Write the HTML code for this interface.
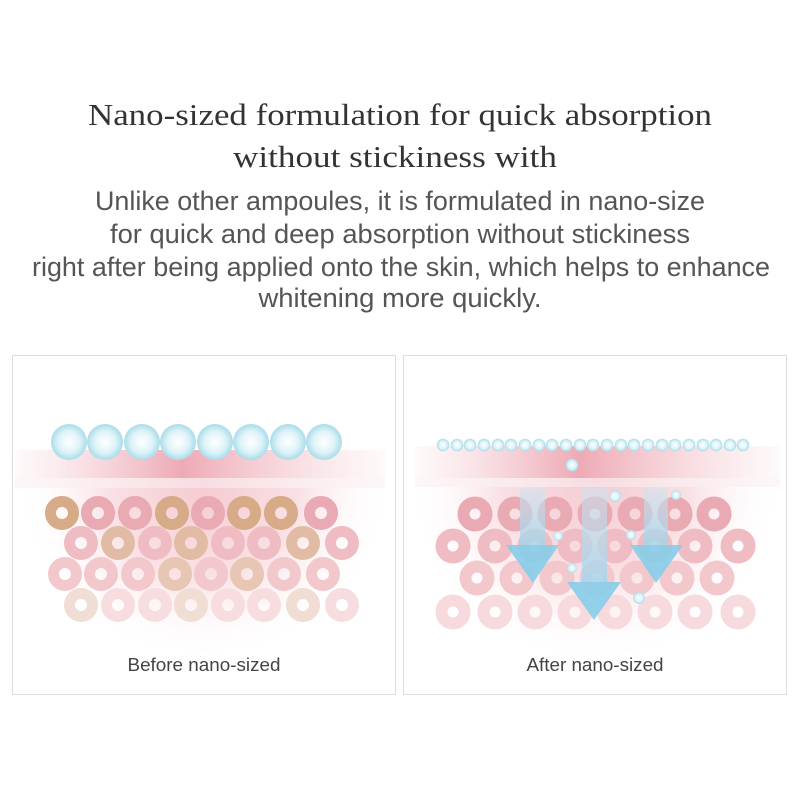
<!DOCTYPE html>
<html><head><meta charset="utf-8"><style>body{margin:0;background:#fff}svg{display:block}</style></head><body>
<svg width="800" height="800" viewBox="0 0 800 800" xmlns="http://www.w3.org/2000/svg">
<defs>
<radialGradient id="bub" cx="0.5" cy="0.5" r="0.5"><stop offset="0" stop-color="#fff"/><stop offset="0.6" stop-color="#def3f8"/><stop offset="1" stop-color="#a9dcea"/></radialGradient>
<linearGradient id="band" x1="0" x2="1"><stop offset="0" stop-color="#f4c9cf" stop-opacity="0.1"/><stop offset="0.45" stop-color="#eeaab5"/><stop offset="1" stop-color="#f4c9cf" stop-opacity="0.1"/></linearGradient>
<radialGradient id="der" cx="0.5" cy="0" r="0.7" gradientTransform="translate(0.5 0) scale(0.7 1.3) translate(-0.5 0)"><stop offset="0" stop-color="#f5ccd2"/><stop offset="0.5" stop-color="#f9e0e4"/><stop offset="1" stop-color="#fff" stop-opacity="0"/></radialGradient>
<linearGradient id="band2" x1="0" x2="1"><stop offset="0" stop-color="#f8e4e7" stop-opacity="0.3"/><stop offset="0.5" stop-color="#f6dde1"/><stop offset="1" stop-color="#f8e4e7" stop-opacity="0.3"/></linearGradient>
<linearGradient id="shaft" x1="0" y1="0" x2="0" y2="1"><stop offset="0" stop-color="#c9e6f2" stop-opacity="0.5"/><stop offset="1" stop-color="#9fd6ec" stop-opacity="0.8"/></linearGradient>
</defs>
<g font-family="'Liberation Serif',serif" font-size="31" fill="#333" text-anchor="middle">
<text x="400" y="125" textLength="624" lengthAdjust="spacingAndGlyphs">Nano-sized formulation for quick absorption</text>
<text x="395" y="167" textLength="324" lengthAdjust="spacingAndGlyphs">without stickiness with</text>
</g>
<g font-family="'Liberation Sans',sans-serif" font-size="27" fill="#555" text-anchor="middle">
<text x="400" y="210" textLength="610" lengthAdjust="spacingAndGlyphs">Unlike other ampoules, it is formulated in nano-size</text>
<text x="400" y="243" textLength="580" lengthAdjust="spacingAndGlyphs">for quick and deep absorption without stickiness</text>
<text x="401" y="276" textLength="738" lengthAdjust="spacingAndGlyphs">right after being applied onto the skin, which helps to enhance</text>
<text x="400" y="307" textLength="283" lengthAdjust="spacingAndGlyphs">whitening more quickly.</text>
</g>
<rect x="12.5" y="355.5" width="383" height="339" fill="#fff" stroke="#ddd"/>
<rect x="403.5" y="355.5" width="383" height="339" fill="#fff" stroke="#ddd"/>
<!-- left panel -->
<rect x="13" y="488" width="382" height="190" fill="url(#der)"/>
<rect x="15" y="450" width="370" height="28" fill="url(#band)"/>
<rect x="15" y="478" width="370" height="10" fill="url(#band2)"/>
<g fill="none" stroke-width="11">
<circle cx="62" cy="513" r="11.5" stroke="#d7ab88"/><circle cx="98" cy="513" r="11.5" stroke="#eaaab4"/><circle cx="135" cy="513" r="11.5" stroke="#eaaab4"/><circle cx="172" cy="513" r="11.5" stroke="#d7ab88"/><circle cx="208" cy="513" r="11.5" stroke="#eaaab4"/><circle cx="244" cy="513" r="11.5" stroke="#d7ab88"/><circle cx="281" cy="513" r="11.5" stroke="#d7ab88"/><circle cx="321" cy="513" r="11.5" stroke="#eaaab4"/>
<circle cx="81" cy="543" r="11.5" stroke="#efbcc3"/><circle cx="118" cy="543" r="11.5" stroke="#e2bba4"/><circle cx="155" cy="543" r="11.5" stroke="#efbcc3"/><circle cx="191" cy="543" r="11.5" stroke="#e2bba4"/><circle cx="228" cy="543" r="11.5" stroke="#efbcc3"/><circle cx="264" cy="543" r="11.5" stroke="#efbcc3"/><circle cx="303" cy="543" r="11.5" stroke="#e2bba4"/><circle cx="342" cy="543" r="11.5" stroke="#efbcc3"/>
<circle cx="65" cy="574" r="11.5" stroke="#f3c8cd"/><circle cx="101" cy="574" r="11.5" stroke="#f3c8cd"/><circle cx="138" cy="574" r="11.5" stroke="#f3c8cd"/><circle cx="175" cy="574" r="11.5" stroke="#e8c6b4"/><circle cx="211" cy="574" r="11.5" stroke="#f3c8cd"/><circle cx="247" cy="574" r="11.5" stroke="#e8c6b4"/><circle cx="284" cy="574" r="11.5" stroke="#f3c8cd"/><circle cx="323" cy="574" r="11.5" stroke="#f3c8cd"/>
<circle cx="81" cy="605" r="11.5" stroke="#f0ddd3"/><circle cx="118" cy="605" r="11.5" stroke="#f7dde0"/><circle cx="155" cy="605" r="11.5" stroke="#f7dde0"/><circle cx="191" cy="605" r="11.5" stroke="#f0ddd3"/><circle cx="228" cy="605" r="11.5" stroke="#f7dde0"/><circle cx="264" cy="605" r="11.5" stroke="#f7dde0"/><circle cx="303" cy="605" r="11.5" stroke="#f0ddd3"/><circle cx="342" cy="605" r="11.5" stroke="#f7dde0"/>
</g>
<g fill="url(#bub)">
<circle cx="69" cy="442" r="18"/><circle cx="105" cy="442" r="18"/><circle cx="142" cy="442" r="18"/><circle cx="178" cy="442" r="18"/><circle cx="215" cy="442" r="18"/><circle cx="251" cy="442" r="18"/><circle cx="288" cy="442" r="18"/><circle cx="324" cy="442" r="18"/>
</g>
<!-- right panel -->
<rect x="404" y="487" width="382" height="195" fill="url(#der)"/>
<rect x="415" y="446" width="365" height="32" fill="url(#band)"/>
<rect x="415" y="478" width="365" height="9" fill="url(#band2)"/>
<g fill="none" stroke-width="12">
<g stroke="#eaaab4"><circle cx="475" cy="514" r="11.5"/><circle cx="515" cy="514" r="11.5"/><circle cx="555" cy="514" r="11.5"/><circle cx="595" cy="514" r="11.5"/><circle cx="635" cy="514" r="11.5"/><circle cx="675" cy="514" r="11.5"/><circle cx="714" cy="514" r="11.5"/></g>
<g stroke="#efbcc3"><circle cx="453" cy="546" r="11.5"/><circle cx="495" cy="546" r="11.5"/><circle cx="535" cy="546" r="11.5"/><circle cx="575" cy="546" r="11.5"/><circle cx="615" cy="546" r="11.5"/><circle cx="655" cy="546" r="11.5"/><circle cx="695" cy="546" r="11.5"/><circle cx="738" cy="546" r="11.5"/></g>
<g stroke="#f3c8cd"><circle cx="477" cy="578" r="11.5"/><circle cx="517" cy="578" r="11.5"/><circle cx="557" cy="578" r="11.5"/><circle cx="597" cy="578" r="11.5"/><circle cx="637" cy="578" r="11.5"/><circle cx="677" cy="578" r="11.5"/><circle cx="717" cy="578" r="11.5"/></g>
<g stroke="#f7dadd"><circle cx="453" cy="612" r="11.5"/><circle cx="495" cy="612" r="11.5"/><circle cx="535" cy="612" r="11.5"/><circle cx="575" cy="612" r="11.5"/><circle cx="615" cy="612" r="11.5"/><circle cx="655" cy="612" r="11.5"/><circle cx="695" cy="612" r="11.5"/><circle cx="738" cy="612" r="11.5"/></g>
</g>
<g>
<rect x="520" y="488" width="25" height="57" fill="url(#shaft)"/><polygon points="506,545 559,545 533,583" fill="#86cde9" opacity="0.9"/>
<rect x="582" y="488" width="25" height="94" fill="url(#shaft)"/><polygon points="567,582 621,582 594,620" fill="#86cde9" opacity="0.9"/>
<rect x="644" y="488" width="24" height="57" fill="url(#shaft)"/><polygon points="630,545 683,545 656,583" fill="#86cde9" opacity="0.9"/>
</g>
<g fill="url(#bub)">
<circle cx="443" cy="445" r="6.3"/><circle cx="457" cy="445" r="6.3"/><circle cx="470" cy="445" r="6.3"/><circle cx="484" cy="445" r="6.3"/><circle cx="498" cy="445" r="6.3"/><circle cx="511" cy="445" r="6.3"/><circle cx="525" cy="445" r="6.3"/><circle cx="539" cy="445" r="6.3"/><circle cx="552" cy="445" r="6.3"/><circle cx="566" cy="445" r="6.3"/><circle cx="580" cy="445" r="6.3"/><circle cx="593" cy="445" r="6.3"/><circle cx="607" cy="445" r="6.3"/><circle cx="621" cy="445" r="6.3"/><circle cx="634" cy="445" r="6.3"/><circle cx="648" cy="445" r="6.3"/><circle cx="662" cy="445" r="6.3"/><circle cx="675" cy="445" r="6.3"/><circle cx="689" cy="445" r="6.3"/><circle cx="703" cy="445" r="6.3"/><circle cx="716" cy="445" r="6.3"/><circle cx="730" cy="445" r="6.3"/><circle cx="743" cy="445" r="6.3"/>
<circle cx="572" cy="465" r="6.3"/><circle cx="615" cy="496" r="6"/><circle cx="676" cy="495" r="5"/><circle cx="558" cy="536" r="5"/><circle cx="631" cy="535" r="5"/><circle cx="572" cy="568" r="5"/><circle cx="639" cy="598" r="6"/>
</g>
<g font-family="'Liberation Sans',sans-serif" font-size="18" fill="#444" text-anchor="middle">
<text x="204" y="671" textLength="153" lengthAdjust="spacingAndGlyphs">Before nano-sized</text>
<text x="595" y="671" textLength="137" lengthAdjust="spacingAndGlyphs">After nano-sized</text>
</g>
</svg>
</body></html>
